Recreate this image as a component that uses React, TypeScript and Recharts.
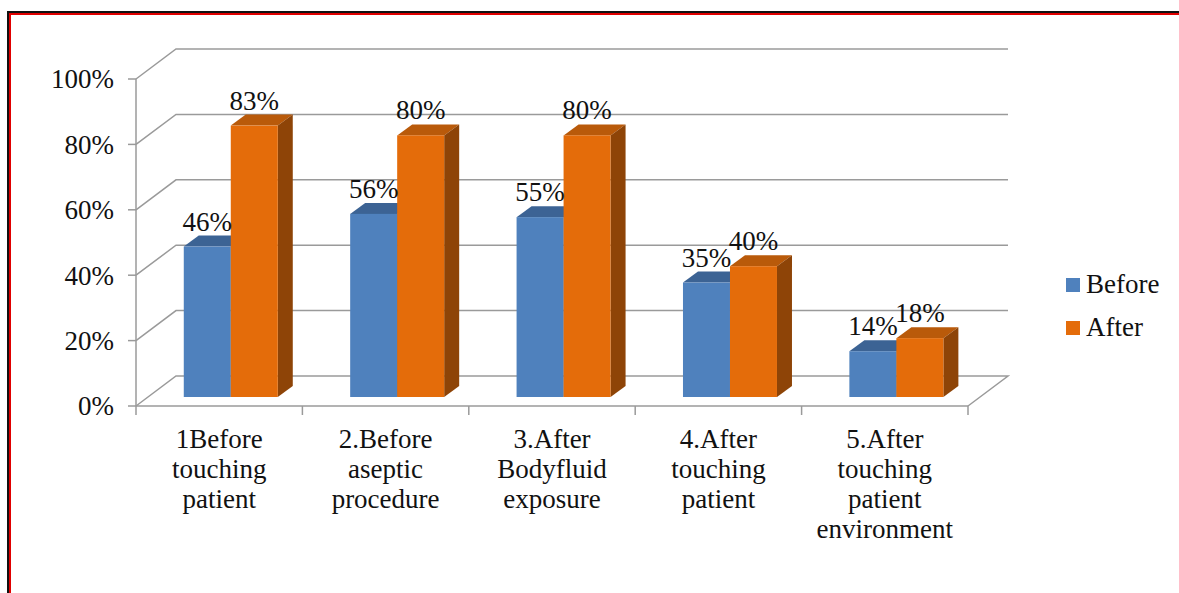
import React from "react";
import { BarChart, Bar, XAxis, YAxis, CartesianGrid, LabelList, Legend } from "recharts";

// data
const categories = [
  "1Before\ntouching\npatient",
  "2.Before\naseptic\nprocedure",
  "3.After\nBodyfluid\nexposure",
  "4.After\ntouching\npatient",
  "5.After\ntouching\npatient\nenvironment",
];
const beforeValues = [46, 56, 55, 35, 14];
const afterValues = [83, 80, 80, 40, 18];
const yTicks = [0, 20, 40, 60, 80, 100];
const seriesNames = ["Before", "After"];

const data = categories.map((name, i) => ({
  name,
  before: beforeValues[i],
  after: afterValues[i],
}));

// layout
const W = 1179;
const H = 593;
const PLOT_LEFT = 136;
const PLOT_RIGHT = 968;
const PLOT_TOP = 79;
const PLOT_BOTTOM = 406;
const Y_AXIS_W = 60;
const X_AXIS_H = 30;
const BAND = (PLOT_RIGHT - PLOT_LEFT) / categories.length;

// fake 3d offsets
const WALL_DX = 40;
const WALL_DY = 30;
const BAR_DX = 12;
const BAR_DY = 9;
const DEPTH_DX = 15;
const DEPTH_DY = 11;

const FONT = "'Liberation Serif', 'Times New Roman', serif";
const FONT_SIZE = 27;
const GRID = "#9a9a9a";
const TEXT = "#111";
const textStyle = { fontFamily: FONT, fontSize: FONT_SIZE };

const colors = [
  { front: "#4F81BD", top: "#3C6394", side: "#385D8A" },
  { front: "#E46C0A", top: "#B95A0A", side: "#8E4407" },
];

function Box3D(props: any) {
  const { x, y, width, height, front, top, side } = props;
  if (height == null || width == null) return null;
  const fx = x + BAR_DX;
  const fy = y - BAR_DY;
  const r = fx + width;
  const b = fy + height;
  return (
    <g>
      <polygon
        points={`${fx},${fy} ${fx + DEPTH_DX},${fy - DEPTH_DY} ${r + DEPTH_DX},${fy - DEPTH_DY} ${r},${fy}`}
        fill={top}
      />
      <polygon
        points={`${r},${fy} ${r + DEPTH_DX},${fy - DEPTH_DY} ${r + DEPTH_DX},${b - DEPTH_DY} ${r},${b}`}
        fill={side}
      />
      <rect x={fx} y={fy} width={width} height={height} fill={front} />
    </g>
  );
}

const renderLabel = (p: any) => {
  const { x, y, width, value } = p;
  return (
    <text
      x={x + width / 2 + BAR_DX}
      y={y - BAR_DY - DEPTH_DY - 5}
      textAnchor="middle"
      style={textStyle}
      fill={TEXT}
    >
      {value}%
    </text>
  );
};

// back wall lines + left wall diagonals, floor gets its right edge too
const renderGridLine = (p: any) => {
  const { x1, y1, x2, y, height } = p;
  const isFloor = Math.abs(y1 - (y + height)) < 1;
  let d = `M${x1},${y1} L${x1 + WALL_DX},${y1 - WALL_DY} L${x2 + WALL_DX},${y1 - WALL_DY}`;
  if (isFloor) d += ` L${x2},${y1}`;
  return <path key={p.key} d={d} stroke={GRID} strokeWidth={1.5} fill="none" />;
};

function CategoryTick(p: any) {
  const { x, payload, index } = p;
  const lines = String(payload.value).split("\n");
  const left = x - BAND / 2;
  return (
    <g>
      <line x1={left} y1={PLOT_BOTTOM} x2={left} y2={PLOT_BOTTOM + 9} stroke={GRID} strokeWidth={1.5} />
      {index === categories.length - 1 && (
        <line
          x1={x + BAND / 2}
          y1={PLOT_BOTTOM}
          x2={x + BAND / 2}
          y2={PLOT_BOTTOM + 9}
          stroke={GRID}
          strokeWidth={1.5}
        />
      )}
      <text x={x} y={PLOT_BOTTOM + 42} textAnchor="middle" style={textStyle} fill={TEXT}>
        {lines.map((l, i) => (
          <tspan key={i} x={x} dy={i === 0 ? 0 : 30}>
            {l}
          </tspan>
        ))}
      </text>
    </g>
  );
}

function ValueTick(p: any) {
  const { x, y, payload } = p;
  return (
    <text x={x} y={y} dy="0.35em" textAnchor="end" style={textStyle} fill={TEXT}>
      {payload.value}%
    </text>
  );
}

const renderLegend = () => (
  <div style={{ ...textStyle, color: TEXT }}>
    {seriesNames.map((n, i) => (
      <div key={n} style={{ display: "flex", alignItems: "center", height: 43 }}>
        <span
          style={{
            width: 14,
            height: 14,
            background: colors[i].front,
            marginRight: 6,
            display: "inline-block",
          }}
        />
        <span>{n}</span>
      </div>
    ))}
  </div>
);

export default function App() {
  return (
    <div
      style={{
        position: "absolute",
        left: 0,
        top: 0,
        width: W,
        height: H,
        background: "#fff",
        overflow: "hidden",
        fontFamily: FONT,
      }}
    >
      <div
        style={{
          position: "absolute",
          left: 7,
          top: 11,
          width: W,
          height: H,
          borderTop: "2px solid #111",
          borderLeft: "2px solid #111",
        }}
      >
        <div style={{ width: "100%", height: "100%", borderTop: "2px solid #e00000", borderLeft: "2px solid #e00000" }} />
      </div>
      <div style={{ position: "absolute", left: 0, top: 0 }}>
        <BarChart
          width={W}
          height={H}
          data={data}
          margin={{
            top: PLOT_TOP,
            left: PLOT_LEFT - Y_AXIS_W,
            right: W - PLOT_RIGHT,
            bottom: H - PLOT_BOTTOM - X_AXIS_H,
          }}
          barGap={0}
          barCategoryGap="21.5%"
        >
          <CartesianGrid vertical={false} horizontal={renderGridLine} />
          <XAxis
            dataKey="name"
            interval={0}
            height={X_AXIS_H}
            axisLine={{ stroke: GRID, strokeWidth: 1.5 }}
            tickLine={false}
            tick={(props: any) => <CategoryTick {...props} />}
          />
          <YAxis
            domain={[0, 100]}
            ticks={yTicks}
            width={Y_AXIS_W}
            axisLine={{ stroke: GRID, strokeWidth: 1.5 }}
            tickLine={{ stroke: GRID, strokeWidth: 1.5 }}
            tickSize={8}
            tickMargin={14}
            tick={(props: any) => <ValueTick {...props} />}
          />
          <Legend
            layout="vertical"
            align="center"
            verticalAlign="middle"
            wrapperStyle={{ left: 1066, top: 263, width: 110 }}
            content={renderLegend}
          />
          <Bar
            dataKey="before"
            name={seriesNames[0]}
            fill={colors[0].front}
            isAnimationActive={false}
            shape={(p: any) => <Box3D {...p} {...colors[0]} />}
          >
            <LabelList dataKey="before" content={renderLabel} />
          </Bar>
          <Bar
            dataKey="after"
            name={seriesNames[1]}
            fill={colors[1].front}
            isAnimationActive={false}
            shape={(p: any) => <Box3D {...p} {...colors[1]} />}
          >
            <LabelList dataKey="after" content={renderLabel} />
          </Bar>
        </BarChart>
      </div>
    </div>
  );
}
